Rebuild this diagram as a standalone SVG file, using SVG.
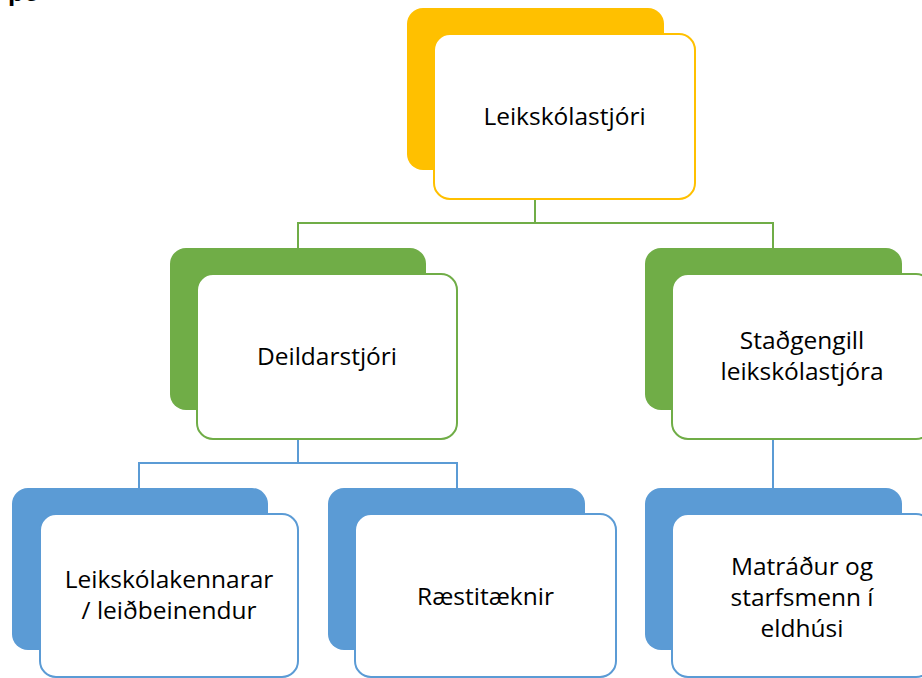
<svg xmlns="http://www.w3.org/2000/svg" width="922" height="678" viewBox="0 0 922 678">
<style>
  .lbl{font-family:"Open Sans","Noto Sans","Liberation Sans",sans-serif;font-size:24.5px;fill:#000;text-anchor:middle}
  .front{fill:#fff;stroke-width:2}
  .y .back{fill:#FFC000}.y .front{stroke:#FFC000}
  .g .back{fill:#70AD47}.g .front{stroke:#70AD47}
  .b .back{fill:#5B9BD5}.b .front{stroke:#5B9BD5}
  .cg{stroke:#70AD47;stroke-width:2;fill:none}
  .cb{stroke:#5B9BD5;stroke-width:2;fill:none}
</style>
<rect width="922" height="678" fill="#fff"/>
<text x="8" y="1" font-family="Liberation Sans,sans-serif" font-weight="bold" font-size="26" fill="#000">pe</text>
<g id="connectors">
  <path class="cg" d="M535 199V223M298 248V223H773V248"/>
  <path class="cb" d="M298 439V463M139 488V463H457V488"/>
  <path class="cb" d="M773 439V488"/>
</g>
<g id="n-leikskolastjori" class="y">
  <rect class="back" x="407" y="8" width="257" height="162" rx="16"/>
  <rect class="front" x="434" y="34" width="261" height="165" rx="16"/>
  <text class="lbl" x="564.5" y="125">Leikskólastjóri</text>
</g>
<g id="n-deildarstjori" class="g">
  <rect class="back" x="170" y="248" width="256" height="162" rx="16"/>
  <rect class="front" x="197" y="274" width="260" height="165" rx="16"/>
  <text class="lbl" x="327" y="365">Deildarstjóri</text>
</g>
<g id="n-stadgengill" class="g">
  <rect class="back" x="645" y="248" width="257" height="162" rx="16"/>
  <rect class="front" x="672" y="274" width="260" height="165" rx="16"/>
  <text class="lbl" x="802" y="349">Staðgengill</text>
  <text class="lbl" x="802" y="380">leikskólastjóra</text>
</g>
<g id="n-leikskolakennarar" class="b">
  <rect class="back" x="12" y="488" width="256" height="162" rx="16"/>
  <rect class="front" x="40" y="514" width="258" height="163" rx="16"/>
  <text class="lbl" x="169" y="588">Leikskólakennarar</text>
  <text class="lbl" x="169" y="619">/ leiðbeinendur</text>
</g>
<g id="n-raestitaeknir" class="b">
  <rect class="back" x="328" y="488" width="257" height="162" rx="16"/>
  <rect class="front" x="355" y="514" width="261" height="163" rx="16"/>
  <text class="lbl" x="485.5" y="605">Ræstitæknir</text>
</g>
<g id="n-matradur" class="b">
  <rect class="back" x="645" y="488" width="257" height="162" rx="16"/>
  <rect class="front" x="672" y="514" width="260" height="163" rx="16"/>
  <text class="lbl" x="802" y="575">Matráður og</text>
  <text class="lbl" x="802" y="606">starfsmenn í</text>
  <text class="lbl" x="802" y="637">eldhúsi</text>
</g>
</svg>
